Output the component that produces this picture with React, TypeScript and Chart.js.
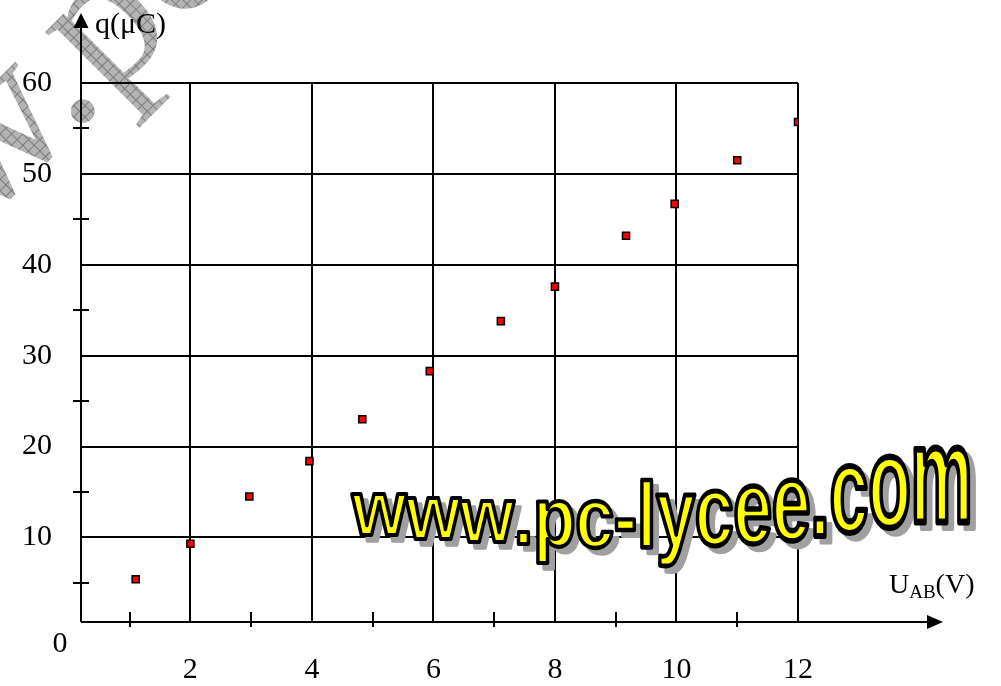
import React, { useEffect, useRef } from 'react';
import { Chart, registerables } from 'chart.js';

Chart.register(...registerables);

// ---- data ----
const U_VALUES = [1.1, 2.0, 2.97, 3.96, 4.83, 5.94, 7.11, 8.0, 9.17, 9.97, 11.0, 12.0];
const Q_VALUES = [5.4, 9.3, 14.5, 18.4, 23.0, 28.3, 33.8, 37.6, 43.2, 46.7, 51.5, 55.7];
const X_TICKS = [2, 4, 6, 8, 10, 12];
const Y_TICKS = [10, 20, 30, 40, 50, 60];
const X_MINOR = [1, 3, 5, 7, 9, 11];
const Y_MINOR = [5, 15, 25, 35, 45, 55];
const ORIGIN_LABEL = '0';
const Y_TITLE = 'q(μC)';
const X_TITLE_MAIN = 'U';
const X_TITLE_SUB = 'AB';
const X_TITLE_UNIT = '(V)';
const WATERMARK = 'www.pc-lycee.com';

const SERIF = "'Liberation Serif', 'Times New Roman', serif";
const SANS = "'Liberation Sans', Arial, sans-serif";

function makeHatch(ctx: CanvasRenderingContext2D) {
  const c = document.createElement('canvas');
  c.width = 8;
  c.height = 8;
  const g = c.getContext('2d')!;
  g.fillStyle = '#b4b4b4';
  g.fillRect(0, 0, 8, 8);
  g.fillStyle = '#7c7c7c';
  g.fillRect(0, 0, 8, 1);
  g.fillRect(0, 0, 1, 8);
  return ctx.createPattern(c, 'repeat');
}

const decorPlugin = {
  id: 'decor',
  beforeDraw(chart: any) {
    // grey diagonal watermark (behind everything)
    const ctx: CanvasRenderingContext2D = chart.ctx;
    ctx.save();
    ctx.font = `200px ${SERIF}`;
    const wPre = ctx.measureText('www').width;
    const wDot = ctx.measureText('.').width;
    ctx.translate(90, 100);
    ctx.rotate(-Math.PI / 4);
    ctx.fillStyle = makeHatch(ctx) || '#a0a0a0';
    ctx.textBaseline = 'alphabetic';
    ctx.fillText(WATERMARK, -(wPre + wDot / 2), 12);
    ctx.restore();
  },
  afterDraw(chart: any) {
    const ctx: CanvasRenderingContext2D = chart.ctx;
    const { left, right, top, bottom } = chart.chartArea;
    const xs = chart.scales.x;
    const ys = chart.scales.y;
    ctx.save();
    ctx.strokeStyle = '#000';
    ctx.fillStyle = '#000';
    ctx.lineWidth = 2;

    // y axis with arrow
    const yTip = top - 70;
    ctx.beginPath();
    ctx.moveTo(left, bottom);
    ctx.lineTo(left, yTip + 12);
    ctx.stroke();
    ctx.beginPath();
    ctx.moveTo(left, yTip);
    ctx.lineTo(left - 7.5, yTip + 15);
    ctx.lineTo(left + 7.5, yTip + 15);
    ctx.closePath();
    ctx.fill();

    // x axis with arrow
    const xTip = right + 145;
    ctx.beginPath();
    ctx.moveTo(left, bottom);
    ctx.lineTo(xTip - 12, bottom);
    ctx.stroke();
    ctx.beginPath();
    ctx.moveTo(xTip, bottom);
    ctx.lineTo(xTip - 16, bottom - 7);
    ctx.lineTo(xTip - 16, bottom + 7);
    ctx.closePath();
    ctx.fill();

    // minor ticks
    ctx.lineWidth = 2;
    Y_MINOR.forEach((v) => {
      const py = Math.round(ys.getPixelForValue(v));
      ctx.beginPath();
      ctx.moveTo(left - 8, py);
      ctx.lineTo(left + 8, py);
      ctx.stroke();
    });
    X_MINOR.forEach((v) => {
      const px = Math.round(xs.getPixelForValue(v));
      ctx.beginPath();
      ctx.moveTo(px, bottom - 10);
      ctx.lineTo(px, bottom + 5);
      ctx.stroke();
    });

    // origin label and axis titles
    ctx.font = `30px ${SERIF}`;
    ctx.textAlign = 'center';
    ctx.textBaseline = 'middle';
    ctx.fillText(ORIGIN_LABEL, left - 21, bottom + 22);

    ctx.textAlign = 'left';
    ctx.textBaseline = 'alphabetic';
    ctx.fillText(Y_TITLE, left + 14, top - 50);

    let tx = right + 91;
    const tb = bottom - 29;
    ctx.font = `28px ${SERIF}`;
    ctx.fillText(X_TITLE_MAIN, tx, tb);
    tx += ctx.measureText(X_TITLE_MAIN).width;
    ctx.font = `19px ${SERIF}`;
    ctx.fillText(X_TITLE_SUB, tx, tb + 5);
    tx += ctx.measureText(X_TITLE_SUB).width;
    ctx.font = `28px ${SERIF}`;
    ctx.fillText(X_TITLE_UNIT, tx, tb);

    // yellow watermark
    ctx.font = `bold 70px ${SANS}`;
    const chars = WATERMARK.split('');
    const n = chars.length - 1;
    const layout: { ch: string; x: number; b: number; sy: number }[] = [];
    let cx = 352;
    chars.forEach((ch, i) => {
      const t = i / n;
      const sy = 1.1 + 0.85 * Math.pow(t, 1.8);
      const b = 535 + 61 * t - 74 * t * t;
      layout.push({ ch, x: cx, b, sy });
      cx += ctx.measureText(ch).width * 0.99;
    });
    ctx.textBaseline = 'alphabetic';
    ctx.lineJoin = 'round';
    // shadow
    layout.forEach(({ ch, x, b, sy }) => {
      ctx.save();
      ctx.translate(x + 6, b + 6);
      ctx.scale(1, sy);
      ctx.fillStyle = '#a0a0a0';
      ctx.lineWidth = 3;
      ctx.strokeStyle = '#a0a0a0';
      ctx.strokeText(ch, 0, 0);
      ctx.fillText(ch, 0, 0);
      ctx.restore();
    });
    layout.forEach(({ ch, x, b, sy }) => {
      ctx.save();
      ctx.translate(x, b);
      ctx.scale(1, sy);
      ctx.fillStyle = '#ffff00';
      ctx.fillText(ch, 0, 0);
      ctx.lineWidth = 3.5;
      ctx.strokeStyle = '#000';
      ctx.strokeText(ch, 0, 0);
      ctx.restore();
    });
    ctx.restore();
  },
};

export default function App() {
  const ref = useRef<HTMLCanvasElement | null>(null);
  useEffect(() => {
    if (!ref.current) return;
    const chart = new Chart(ref.current, {
      type: 'scatter',
      data: {
        datasets: [
          {
            data: U_VALUES.map((x, i) => ({ x, y: Q_VALUES[i] })),
            pointStyle: 'rect',
            pointRadius: 5,
            pointHoverRadius: 5,
            pointBorderWidth: 1.5,
            backgroundColor: '#ff0000',
            borderColor: '#000000',
            showLine: false,
          },
        ],
      },
      options: {
        responsive: false,
        animation: false,
        events: [],
        layout: { padding: { top: 83, right: 203, left: 0, bottom: 0 } },
        plugins: { legend: { display: false }, tooltip: { enabled: false } },
        scales: {
          x: {
            type: 'linear',
            min: 0.2,
            max: 12,
            afterBuildTicks: (s: any) => {
              s.ticks = X_TICKS.map((v) => ({ value: v }));
            },
            afterFit: (s: any) => {
              s.height = 64;
            },
            grid: { color: '#000', lineWidth: 2, drawTicks: false },
            border: { display: false },
            ticks: {
              padding: 30,
              color: '#000',
              autoSkip: false,
              maxRotation: 0,
              font: { family: SERIF, size: 30 },
              callback: (v: any) => String(v),
            },
          },
          y: {
            type: 'linear',
            min: 0.7,
            max: 60,
            afterBuildTicks: (s: any) => {
              s.ticks = Y_TICKS.map((v) => ({ value: v }));
            },
            afterFit: (s: any) => {
              s.width = 81;
            },
            grid: { color: '#000', lineWidth: 2, drawTicks: false },
            border: { display: false },
            ticks: {
              padding: 29,
              color: '#000',
              autoSkip: false,
              font: { family: SERIF, size: 30 },
              callback: (v: any) => String(v),
            },
          },
        },
      },
      plugins: [decorPlugin],
    });
    return () => chart.destroy();
  }, []);
  return (
    <canvas
      ref={ref}
      width={1001}
      height={686}
      style={{ display: 'block', position: 'fixed', left: 0, top: 0 }}
    />
  );
}
